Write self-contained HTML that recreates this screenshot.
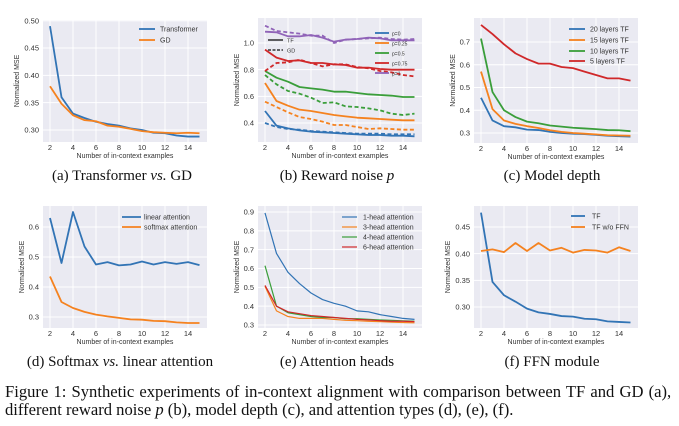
<!DOCTYPE html>
<html><head><meta charset="utf-8"><style>
body{margin:0;background:#fff;width:679px;height:426px;overflow:hidden;font-family:"Liberation Sans",sans-serif}
svg{position:absolute;left:0;top:0}
.cap{position:absolute;font-family:"Liberation Serif",serif;font-size:15px;color:#111;white-space:nowrap;transform:translateX(-50%)}
.fig{position:absolute;left:5px;font-family:"Liberation Serif",serif;font-size:16.6px;color:#111;white-space:nowrap}
</style></head><body>
<svg id="s" width="679" height="426"></svg>
<div class="cap" style="left:122px;top:168px">(a) Transformer <i>vs.</i> GD</div>
<div class="cap" style="left:337px;top:168px">(b) Reward noise <i>p</i></div>
<div class="cap" style="left:552px;top:168px">(c) Model depth</div>
<div class="cap" style="left:120px;top:354px">(d) Softmax <i>vs.</i> linear attention</div>
<div class="cap" style="left:337px;top:354px">(e) Attention heads</div>
<div class="cap" style="left:552px;top:354px">(f) FFN module</div>
<div class="fig" style="top:382px;word-spacing:1px">Figure 1: Synthetic experiments of in-context alignment with comparison between TF and GD (a),</div>
<div class="fig" style="top:400px">different reward noise <i>p</i> (b), model depth (c), and attention types (d), (e), (f).</div>
<script>
const xs=[2,3,4,5,6,7,8,9,10,11,12,13,14,15];
const xTicks=[2,4,6,8,10,12,14];
const aTF=[0.49,0.36,0.33,0.322,0.315,0.311,0.308,0.303,0.30,0.295,0.294,0.29,0.288,0.288];
const aGD=[0.38,0.348,0.327,0.318,0.316,0.308,0.306,0.302,0.298,0.296,0.295,0.294,0.295,0.294];
const aTicks=[0.30,0.35,0.40,0.45,0.50];
const bTF0=[0.49,0.38,0.36,0.345,0.335,0.33,0.325,0.32,0.315,0.31,0.31,0.305,0.305,0.30];
const bGD0=[0.40,0.37,0.355,0.35,0.34,0.335,0.33,0.325,0.32,0.32,0.32,0.315,0.315,0.315];
const bTF25=[0.70,0.565,0.53,0.50,0.49,0.475,0.46,0.45,0.44,0.435,0.43,0.425,0.42,0.42];
const bGD25=[0.56,0.52,0.48,0.445,0.43,0.41,0.385,0.385,0.37,0.355,0.36,0.355,0.35,0.35];
const bTF50=[0.79,0.74,0.71,0.67,0.66,0.65,0.635,0.635,0.625,0.615,0.61,0.605,0.595,0.595];
const bGD50=[0.76,0.69,0.64,0.62,0.59,0.55,0.555,0.525,0.52,0.51,0.495,0.47,0.46,0.47];
const bTF75=[0.95,0.89,0.865,0.87,0.85,0.85,0.84,0.835,0.815,0.815,0.805,0.80,0.80,0.80];
const bGD75=[0.79,0.85,0.855,0.875,0.85,0.825,0.84,0.84,0.82,0.81,0.79,0.78,0.76,0.75];
const bTF1=[1.085,1.08,1.05,1.05,1.06,1.04,1.01,1.025,1.03,1.04,1.035,1.02,1.02,1.02];
const bGD1=[1.13,1.09,1.08,1.07,1.055,1.055,1.0,1.025,1.03,1.035,1.04,1.03,1.025,1.03];
const bTicks=[0.4,0.6,0.8,1.0];
const c20=[0.455,0.355,0.33,0.325,0.315,0.313,0.305,0.30,0.297,0.295,0.292,0.288,0.286,0.284];
const c15=[0.57,0.405,0.355,0.34,0.33,0.322,0.312,0.305,0.30,0.297,0.294,0.29,0.289,0.288];
const c10=[0.715,0.48,0.40,0.37,0.35,0.343,0.333,0.328,0.323,0.32,0.317,0.313,0.312,0.308];
const c5=[0.775,0.735,0.69,0.65,0.625,0.605,0.605,0.59,0.585,0.57,0.555,0.54,0.54,0.53];
const cTicks=[0.3,0.4,0.5,0.6,0.7];
const dLin=[0.63,0.48,0.65,0.535,0.475,0.483,0.472,0.475,0.485,0.475,0.483,0.477,0.483,0.473];
const dSoft=[0.435,0.35,0.33,0.317,0.308,0.302,0.297,0.292,0.291,0.287,0.286,0.282,0.28,0.28];
const dTicks=[0.3,0.4,0.5,0.6];
const e1=[0.895,0.68,0.58,0.52,0.47,0.435,0.415,0.40,0.375,0.37,0.355,0.345,0.335,0.33];
const e3=[0.505,0.375,0.345,0.335,0.335,0.335,0.33,0.325,0.323,0.32,0.318,0.315,0.313,0.312];
const e4=[0.615,0.40,0.365,0.355,0.345,0.34,0.34,0.333,0.333,0.33,0.327,0.325,0.322,0.32];
const e6=[0.51,0.40,0.37,0.36,0.35,0.345,0.34,0.335,0.33,0.327,0.323,0.32,0.32,0.318];
const eTicks=[0.3,0.4,0.5,0.6,0.7,0.8,0.9];
const fTF=[0.477,0.347,0.322,0.31,0.297,0.29,0.287,0.283,0.282,0.278,0.277,0.273,0.272,0.271];
const fNo=[0.405,0.408,0.403,0.42,0.405,0.42,0.406,0.411,0.402,0.407,0.406,0.402,0.412,0.405];
const fTicks=[0.30,0.35,0.40,0.45];
const B='#3274b5',O='#f5821f',G='#3a9e3a',R='#d0282a',P='#9063b8';
const NS='http://www.w3.org/2000/svg',S=document.getElementById('s');
function mk(t,a,p){const e=document.createElementNS(NS,t);for(const k in a)e.setAttribute(k,a[k]);(p||S).appendChild(e);return e;}
function chart(o){
 const g=mk('g',{});
 
 
 const X=v=>o.x2+(v-2)*(o.x14-o.x2)/12;
 const Y=v=>o.ya+(v-o.va)*(o.yb-o.ya)/(o.vb-o.va);
 const bg=mk('rect',{x:o.l,y:o.t,width:o.r-o.l,height:o.b-o.t,fill:'#eaeaf2'},g);
 
 
 xTicks.forEach(v=>{mk('line',{x1:X(v),x2:X(v),y1:o.t,y2:o.b,stroke:'#fff','stroke-width':1},g);
  const t=mk('text',{x:X(v),y:o.b+8,'font-size':7.5,fill:'#333','text-anchor':'middle'},g);t.textContent=v;
  
  });
 o.yt.forEach(v=>{mk('line',{x1:o.l,x2:o.r,y1:Y(v),y2:Y(v),stroke:'#fff','stroke-width':1},g);
  const t=mk('text',{x:o.l-4,y:Y(v)+2.7,'font-size':7.5,fill:'#333','text-anchor':'end'},g);t.textContent=v.toFixed(o.dec);
  
  });
 const xl=mk('text',{x:(o.l+o.r)/2,y:o.b+16,'font-size':7,fill:'#333','text-anchor':'middle'},g);xl.textContent='Number of in-context examples';
 
 
 const yx=o.l-(o.dec==2?24:19),yy=(o.t+o.b)/2;
 const yl=mk('text',{x:yx,y:yy,'font-size':7,fill:'#333','text-anchor':'middle',transform:`rotate(-90 ${yx} ${yy})`},g);yl.textContent='Normalized MSE';
 
 
 o.series.forEach(s=>{const pl=mk('polyline',{points:s.d.map((v,i)=>X(xs[i])+','+Y(v)).join(' '),fill:'none',stroke:s.c,'stroke-width':s.w||1.8,'stroke-dasharray':s.dash?'4,2.5':'none','stroke-linejoin':'round'},g);
  
  });
 o.leg.forEach(L=>{const lg=mk('g',{},g);
  
  
  mk('line',{x1:L.x,x2:L.x+L.len,y1:L.y,y2:L.y,stroke:L.c,'stroke-width':L.w||1.8,'stroke-dasharray':L.dash?'3,1.5':'none'},lg);
  const t=mk('text',{x:L.x+L.len+L.gap,y:L.y+2.4,'font-size':L.fs,fill:'#333'},lg);t.textContent=L.t;});
}
chart({name:'chart-a',l:43,r:207,t:20,b:142,x2:50,x14:188,va:0.5,ya:20.7,vb:0.3,yb:130,yt:aTicks,dec:2,
 series:[{n:'transformer',d:aTF,c:B},{n:'gd',d:aGD,c:O}],
 leg:[{x:139,len:16,gap:5,y:29,c:B,t:'Transformer',fs:7},{x:139,len:16,gap:5,y:40,c:O,t:'GD',fs:7}]});
chart({name:'chart-b',l:258,r:422,t:18,b:142,x2:265,x14:403,va:1.0,ya:43,vb:0.4,yb:123,yt:bTicks,dec:1,
 series:[{n:'tf-p0',d:bTF0,c:B},{n:'gd-p0',d:bGD0,c:B,dash:1},{n:'tf-p025',d:bTF25,c:O},{n:'gd-p025',d:bGD25,c:O,dash:1},
 {n:'tf-p05',d:bTF50,c:G},{n:'gd-p05',d:bGD50,c:G,dash:1},{n:'tf-p075',d:bTF75,c:R},{n:'gd-p075',d:bGD75,c:R,dash:1},
 {n:'tf-p1',d:bTF1,c:P},{n:'gd-p1',d:bGD1,c:P,dash:1}],
 leg:[{x:375,len:14,gap:3,y:33,c:B,t:'p=0',fs:5},{x:375,len:14,gap:3,y:43,c:O,t:'p=0.25',fs:5},{x:375,len:14,gap:3,y:53,c:G,t:'p=0.5',fs:5},
 {x:375,len:14,gap:3,y:63,c:R,t:'p=0.75',fs:5},{x:375,len:14,gap:3,y:73,c:P,t:'p=1',fs:5},
 {x:268,len:15,gap:4,y:40,c:'#111',t:'TF',fs:5.5,w:1.3},{x:268,len:15,gap:4,y:50,c:'#111',t:'GD',fs:5.5,w:1.3,dash:1}]});
chart({name:'chart-c',l:474,r:638,t:18,b:143,x2:481,x14:619,va:0.7,ya:42,vb:0.3,yb:133,yt:cTicks,dec:1,
 series:[{n:'20-layers',d:c20,c:B},{n:'15-layers',d:c15,c:O},{n:'10-layers',d:c10,c:G},{n:'5-layers',d:c5,c:R}],
 leg:[{x:569,len:16,gap:5,y:29,c:B,t:'20 layers TF',fs:7},{x:569,len:16,gap:5,y:40,c:O,t:'15 layers TF',fs:7},{x:569,len:16,gap:5,y:51,c:G,t:'10 layers TF',fs:7},{x:569,len:16,gap:5,y:61,c:R,t:'5 layers TF',fs:7}]});
chart({name:'chart-d',l:43,r:207,t:206,b:328,x2:50,x14:188,va:0.6,ya:227,vb:0.3,yb:317,yt:dTicks,dec:1,
 series:[{n:'linear-attention',d:dLin,c:B},{n:'softmax-attention',d:dSoft,c:O}],
 leg:[{x:122,len:19,gap:3,y:217,c:B,t:'linear attention',fs:7},{x:122,len:19,gap:3,y:227,c:O,t:'softmax attention',fs:7}]});
chart({name:'chart-e',l:258,r:422,t:206,b:328,x2:265,x14:403,va:0.9,ya:212,vb:0.3,yb:325,yt:eTicks,dec:1,
 series:[{n:'1-head',d:e1,c:B,w:1.2},{n:'3-head',d:e3,c:O,w:1.2},{n:'4-head',d:e4,c:G,w:1.2},{n:'6-head',d:e6,c:R,w:1.2}],
 leg:[{x:342,len:15,gap:6,y:217,c:B,t:'1-head attention',fs:7,w:1.2},{x:342,len:15,gap:6,y:227,c:O,t:'3-head attention',fs:7,w:1.2},{x:342,len:15,gap:6,y:237,c:G,t:'4-head attention',fs:7,w:1.2},{x:342,len:15,gap:6,y:247,c:R,t:'6-head attention',fs:7,w:1.2}]});
chart({name:'chart-f',l:474,r:638,t:206,b:328,x2:481,x14:619,va:0.45,ya:227,vb:0.30,yb:307,yt:fTicks,dec:2,
 series:[{n:'tf',d:fTF,c:B},{n:'tf-without-ffn',d:fNo,c:O}],
 leg:[{x:571,len:14,gap:7,y:216,c:B,t:'TF',fs:7},{x:571,len:14,gap:7,y:227,c:O,t:'TF w/o FFN',fs:7}]});
</script>
</body></html>
